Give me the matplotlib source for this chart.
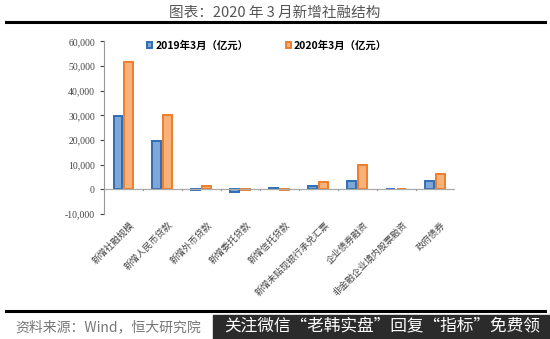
import matplotlib
matplotlib.use("Agg")
import matplotlib.pyplot as plt
import matplotlib.transforms as mtransforms
import numpy as np
from matplotlib.ticker import FuncFormatter

plt.rcParams['font.family'] = ['Noto Sans CJK SC', 'DejaVu Sans']

# data (亿元)
categories = ['新增社融规模', '新增人民币贷款', '新增外币贷款', '新增委托贷款', '新增信托贷款',
              '新增未贴现银行承兑汇票', '企业债券融资', '非金融企业境内股票融资', '政府债券']
v2019 = [29700, 19500, -100, -1000, 600, 1300, 3400, 150, 3400]
v2020 = [51500, 30300, 1300, -400, -200, 2800, 9900, 300, 6200]
series_names = ['2019年3月（亿元）', '2020年3月（亿元）']
yticks = [-10000, 0, 10000, 20000, 30000, 40000, 50000, 60000]

fig = plt.figure(figsize=(5.5, 3.39), dpi=100)

# header
fig.text(0.5, 0.962, '图表：2020 年 3 月新增社融结构', ha='center', va='center',
         fontsize=10.5, color='#555555')
fig.add_artist(plt.Line2D([0.01, 0.99], [0.935, 0.935], color='black', lw=2.2))

ax = fig.add_axes([0.189, 0.369, 0.638, 0.509])
x = np.arange(len(categories))
w = 0.23
off = 0.14
ax.bar(x - off, v2019, w, color='#7ea6d6', edgecolor='#2f6db5', linewidth=1.4,
       label=series_names[0])
ax.bar(x + off, v2020, w, color='#f7b27a', edgecolor='#ee7d2b', linewidth=1.4,
       label=series_names[1])

ax.set_xlim(-0.5, len(categories) - 0.5)
ax.set_ylim(-10000, 60000)
ax.set_yticks(yticks)
ax.yaxis.set_major_formatter(FuncFormatter(lambda v, p: f'{int(v):,}'))
ax.tick_params(axis='y', labelsize=7, colors='#444444', length=3, width=0.8,
               direction='out', labelfontfamily='Liberation Serif')

for s in ['top', 'right', 'bottom']:
    ax.spines[s].set_visible(False)
ax.spines['left'].set_color('#999999')
ax.axhline(0, color='#aaaaaa', lw=0.9)

ax.set_xticks(x)
ax.set_xticklabels(categories, rotation=45, ha='right', va='center',
                   rotation_mode='anchor', fontsize=6.6, color='#444444')
ax.tick_params(axis='x', length=0, pad=7)
shift = mtransforms.ScaledTranslation(9 / 100, 0, fig.dpi_scale_trans)
for lab in ax.get_xticklabels():
    lab.set_transform(lab.get_transform() + shift)
# boundary ticks on the zero line
for b in np.arange(0.5, len(categories) - 0.5, 1.0):
    ax.plot([b, b], [0, -500], color='#999999', lw=0.8, clip_on=False)

fig.legend(loc='center left', bbox_to_anchor=(0.25, 0.866), ncol=2, frameon=False,
           handlelength=0.5, handleheight=0.6, handletextpad=0.3,
           columnspacing=3.6, prop={'weight': 'bold', 'size': 7.5})

# footer
fig.add_artist(plt.Line2D([0.01, 0.99], [0.082, 0.082], color='black', lw=2.2))
fig.text(0.027, 0.035, '资料来源：Wind，恒大研究院', ha='left', va='center',
         fontsize=10, color='#777777', style='italic')
fig.add_artist(plt.Rectangle((0.388, 0.0), 0.612, 0.072, transform=fig.transFigure,
                             color='#2b2b2b', zorder=2))
fig.text(0.694, 0.036, '关注微信“老韩实盘”回复“指标”免费领', ha='center', va='center',
         fontsize=12, color='white', zorder=3)

fig.savefig('out.png', dpi=100)
